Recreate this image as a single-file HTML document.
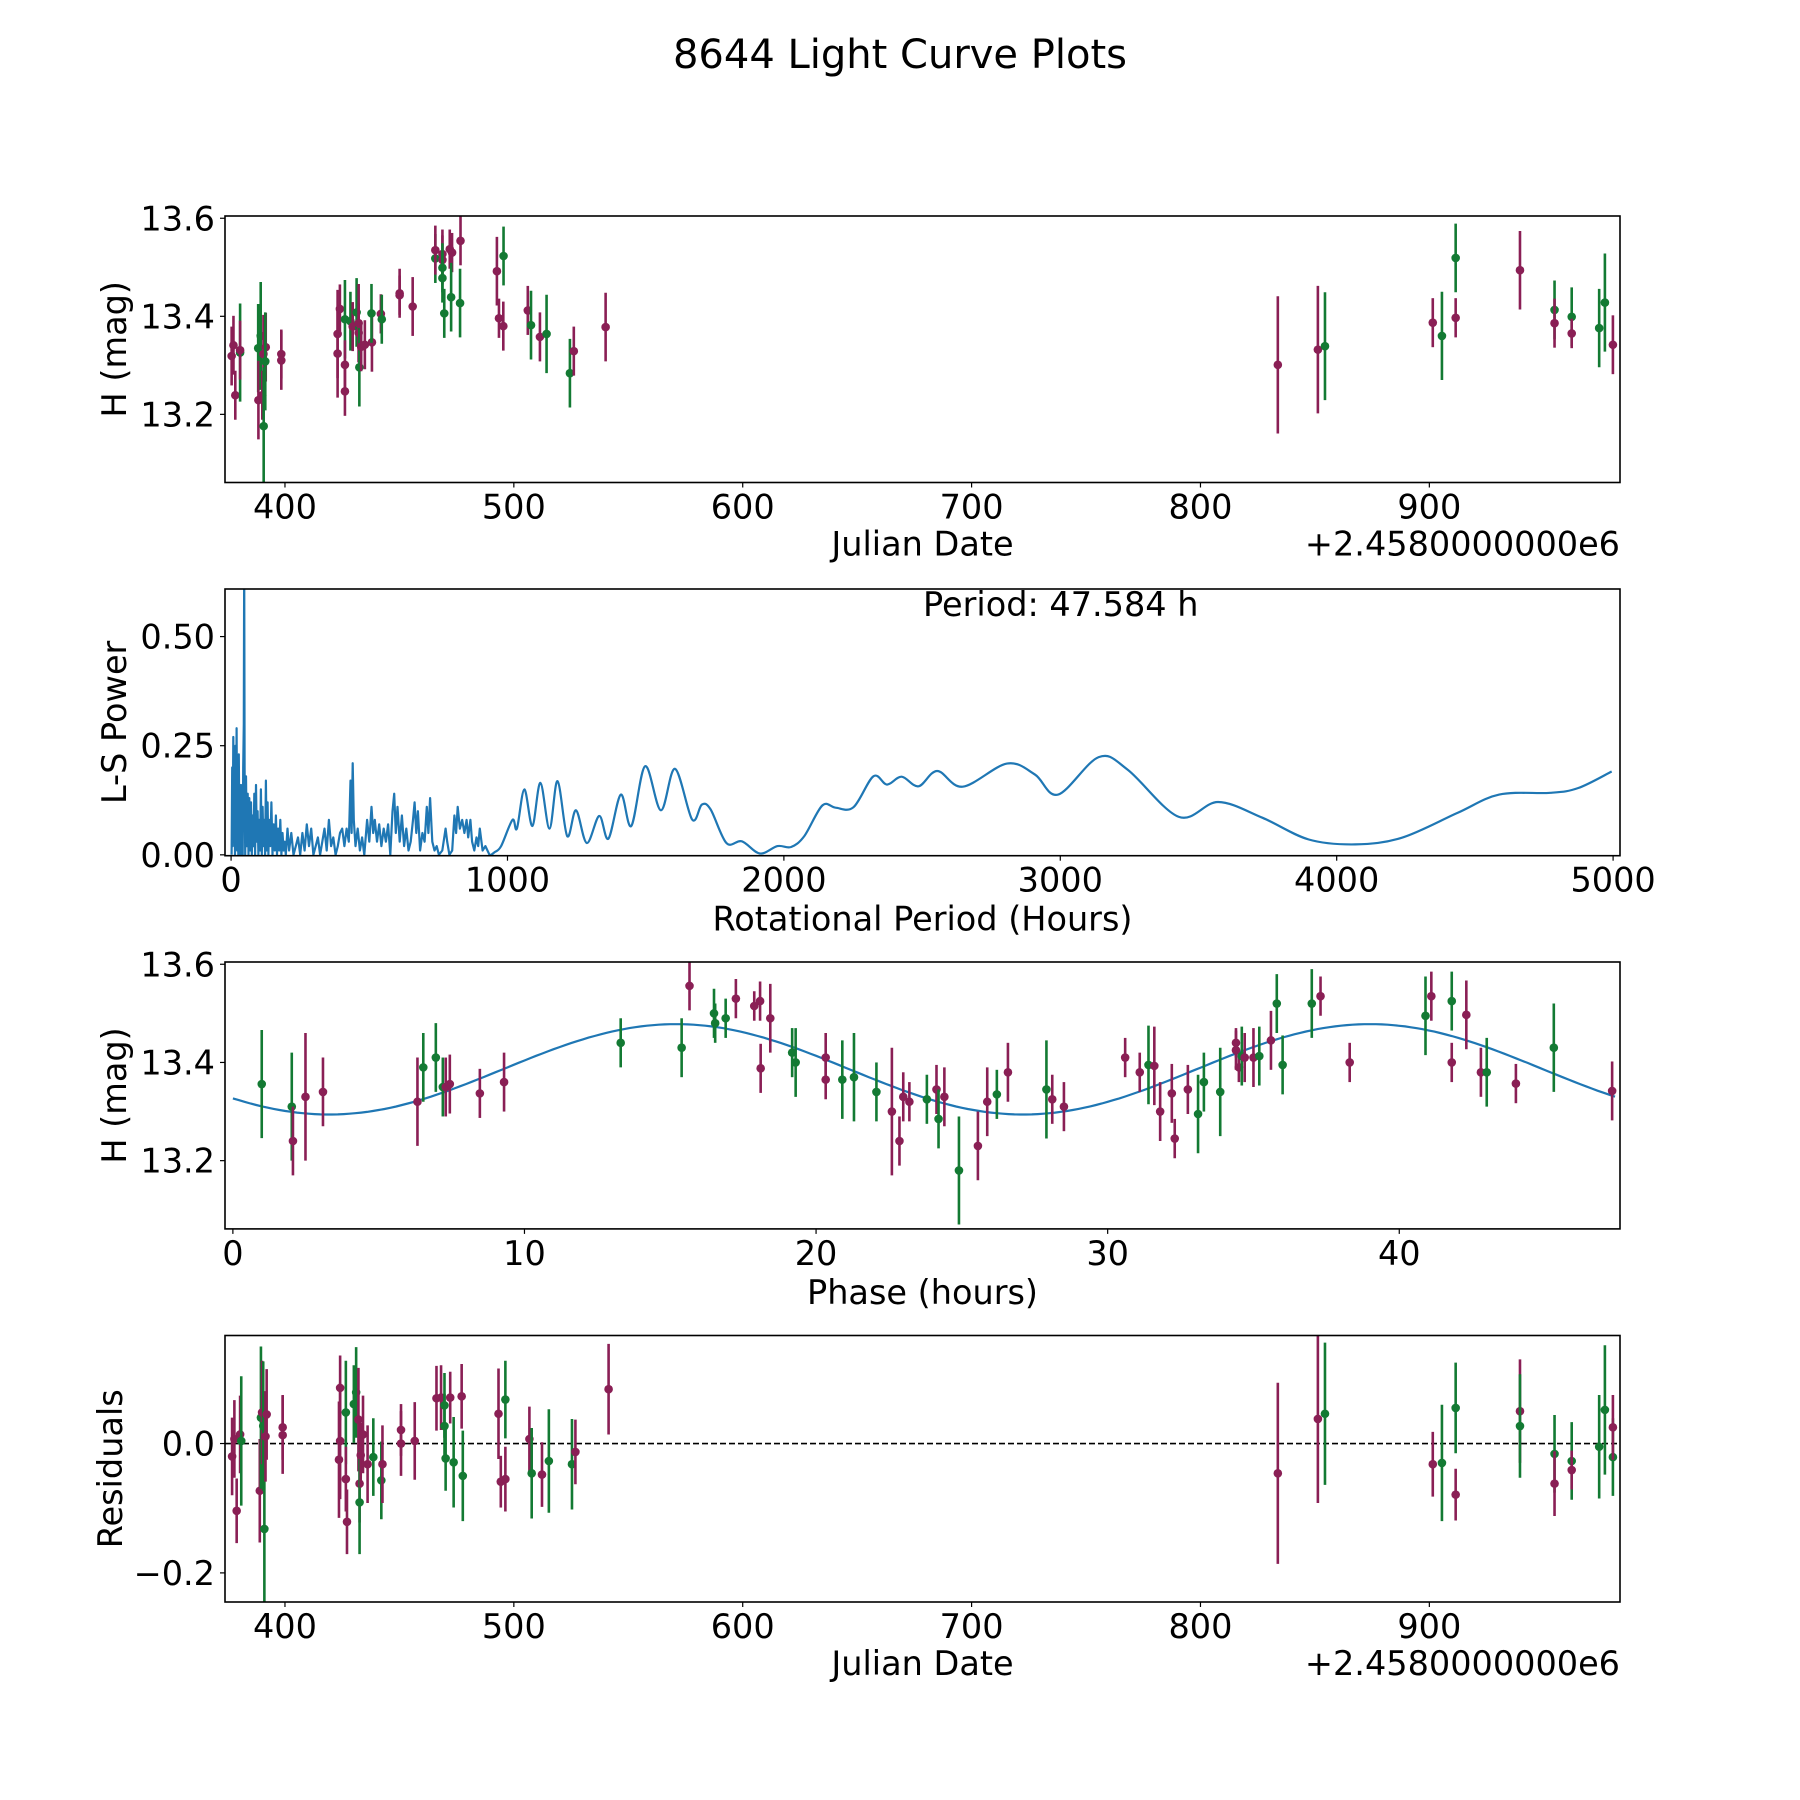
<!DOCTYPE html>
<html><head><meta charset="utf-8"><style>
html,body{margin:0;padding:0;background:#fff;}
svg{display:block;font-family:"DejaVu Sans","Liberation Sans",sans-serif;}
</style></head><body>
<svg id="fig" width="1800" height="1800" viewBox="0 0 1800 1800" xmlns="http://www.w3.org/2000/svg">
<rect width="1800" height="1800" fill="#fff"/>
<text x="900" y="68" font-size="40" text-anchor="middle">8644 Light Curve Plots</text>
</svg>
<script>
// ---- top light curve data ----
const lcDate=[376.7,377.5,378.3,380.4,380.4,388.3,388.4,389.4,390.1,390.6,390.7,391.6,391.4,398.4,398.4,423.0,423.0,424.0,426.2,426.2,426.2,428.6,429.6,431.3,432.2,432.2,432.5,433.3,434.9,438.0,437.8,441.9,442.3,450.1,450.1,455.8,465.7,465.7,468.8,468.8,468.8,468.8,469.6,472.0,473.0,472.6,476.7,476.5,492.6,493.5,495.4,495.5,506.1,507.5,511.4,514.3,524.5,526.2,540.1,833.8,851.3,854.4,901.5,905.5,911.5,911.5,939.6,954.7,954.7,962.2,962.2,974.2,976.7,980.2];
const lcMag=[13.319,13.341,13.239,13.326,13.331,13.335,13.229,13.360,13.239,13.323,13.176,13.337,13.308,13.323,13.310,13.364,13.324,13.415,13.394,13.301,13.247,13.390,13.379,13.408,13.386,13.366,13.296,13.338,13.342,13.347,13.406,13.405,13.394,13.447,13.443,13.420,13.518,13.535,13.527,13.515,13.499,13.478,13.406,13.537,13.530,13.439,13.554,13.427,13.492,13.396,13.380,13.523,13.412,13.382,13.358,13.364,13.284,13.329,13.378,13.301,13.332,13.339,13.387,13.360,13.519,13.397,13.494,13.413,13.386,13.399,13.365,13.376,13.428,13.342];
const lcErr=[.06,.06,.05,.1,.06,.09,.08,.11,.05,.08,.12,.07,.1,.05,.06,.09,.09,.05,.08,.05,.05,.06,.05,.07,.08,.06,.08,.05,.05,.06,.06,.04,.05,.05,.04,.06,.05,.05,.05,.05,.05,.05,.05,.04,.04,.07,.05,.07,.07,.04,.05,.06,.05,.07,.05,.08,.07,.05,.07,.14,.13,.11,.05,.09,.07,.04,.08,.06,.05,.06,.03,.08,.1,.06];
const lcBand=["P","P","P","G","P","G","P","G","P","P","G","P","G","P","P","P","P","P","G","P","P","G","P","G","P","P","G","P","P","P","G","P","G","P","P","P","G","P","P","P","G","G","G","P","P","G","P","G","P","P","P","G","P","G","P","G","G","P","P","P","P","G","P","G","G","P","P","G","P","G","P","G","G","P"];
// ---- periodogram ----
const lsPeriod=[2,4,6,8,10,12,14,16,18,20,22,24,26,28,30,32,34,36,38,40,42,44,46,47.6,49,51,54,57,60,63,66,69,72,75,78,81,84,87,90,93,96,99,102,105,108,111,114,117,120,123,126,129,132,135,138,142,146,150,154,158,162,166,170,174,178,182,186,190,194,198,204,210,218,226,234,242,250,258,266,274,282,290,298,306,314,322,330,338,346,354,362,370,378,386,394,402,410,418,426,432,436,440,444,450,458,466,474,482,492,500,508,514,520,528,536,544,552,560,568,576,584,590,596,602,610,618,626,634,642,650,658,664,670,676,684,692,700,708,714,720,728,736,744,752,764,776,782,790,800,808,814,820,828,836,844,852,858,866,872,880,888,894,900,910,920,935,953,977,1018,1034,1061,1090,1119,1152,1181,1216,1248,1287,1332,1365,1410,1448,1498,1555,1606,1668,1703,1735,1792,1848,1913,1977,2026,2074,2139,2187,2252,2324,2373,2426,2487,2555,2647,2807,2908,2992,3139,3244,3429,3571,3731,3899,4067,4235,4437,4588,4773,4874,4995];
const lsPower=[0,.2,.02,.27,.03,.22,0,.25,.05,.29,.01,.18,0,.23,.04,.15,0,.16,.02,.12,0,.2,.3,.68,.2,0,.18,.02,.14,0,.13,.01,.12,0,.09,.02,.14,0,.16,.03,.1,0,.08,.01,.15,0,.11,.02,.08,0,.17,.01,.12,0,.08,.02,.12,0,.07,.01,.09,0,.06,.01,.08,0,.05,.01,.03,0,.06,.01,.05,0,.02,.04,0,.05,.01,.07,.02,.06,0,.02,.04,0,.03,.06,.01,.08,.02,.04,0,.02,.05,.06,.02,.06,.03,.17,.05,.21,.08,.02,.06,.01,.04,0,.08,.03,.11,.05,.08,.03,.07,.02,.06,.03,.07,0,.1,.14,.05,.11,.03,.09,.02,.06,.01,.03,.08,.12,.05,.1,.01,.05,.03,.11,.05,.13,.03,.01,.02,0,.01,.06,.03,0,.01,.09,.05,.11,.06,.08,.05,.08,.04,.08,.03,.01,.04,.02,.06,.01,.02,0,.006,.02,.08,.06,.15,.066,.165,.06,.169,.043,.102,.027,.089,.037,.138,.066,.203,.102,.197,.081,.115,.104,.027,.031,.003,.02,.018,.043,.113,.108,.109,.18,.161,.179,.157,.192,.156,.209,.184,.138,.224,.195,.087,.121,.085,.035,.024,.039,.096,.138,.142,.153,.191];
// ---- phase-folded data ----
const phHour=[0.99,2.02,2.06,2.49,3.09,6.33,6.53,6.96,7.2,7.3,7.44,8.47,9.3,13.3,15.39,15.66,16.5,16.54,16.9,17.25,17.88,18.08,18.43,18.1,19.18,19.3,20.33,20.33,20.9,21.3,22.07,22.6,22.86,22.99,23.2,23.8,24.13,24.2,24.4,24.9,25.55,25.87,26.2,26.58,27.9,28.1,28.5,30.6,31.1,31.4,31.6,31.8,32.2,32.3,32.75,33.1,33.3,33.86,34.4,34.4,34.5,34.6,34.7,35.0,35.2,35.6,35.8,36.0,37.0,37.3,38.3,40.9,41.1,41.8,41.8,42.3,42.8,43.0,44.0,45.3,47.3];
const phMag=[13.356,13.31,13.24,13.33,13.34,13.32,13.39,13.41,13.35,13.35,13.356,13.337,13.36,13.44,13.43,13.556,13.5,13.48,13.49,13.53,13.515,13.525,13.49,13.388,13.42,13.40,13.41,13.365,13.365,13.37,13.34,13.30,13.24,13.33,13.32,13.325,13.345,13.285,13.33,13.18,13.23,13.32,13.335,13.38,13.345,13.325,13.31,13.41,13.38,13.395,13.393,13.30,13.337,13.245,13.345,13.295,13.36,13.34,13.44,13.425,13.39,13.413,13.41,13.41,13.413,13.445,13.52,13.395,13.52,13.535,13.40,13.495,13.535,13.525,13.40,13.497,13.38,13.38,13.357,13.43,13.342];
const phErr=[.11,.11,.07,.13,.07,.09,.07,.07,.06,.06,.06,.05,.06,.05,.06,.05,.05,.04,.04,.04,.03,.04,.07,.05,.05,.07,.05,.04,.08,.09,.06,.13,.05,.05,.04,.05,.05,.06,.06,.11,.07,.07,.05,.06,.1,.05,.05,.04,.04,.08,.08,.06,.06,.04,.05,.08,.06,.09,.03,.04,.03,.06,.05,.06,.06,.06,.06,.06,.07,.04,.04,.08,.05,.06,.04,.07,.05,.07,.04,.09,.06];
const phBand=["G","G","P","P","P","P","G","G","G","P","P","P","P","G","G","P","G","G","G","P","P","P","P","P","G","G","P","P","G","G","G","P","P","P","P","G","P","G","P","G","P","P","G","P","G","P","P","P","P","G","P","P","P","P","P","G","G","G","P","P","P","G","P","P","G","P","G","G","G","P","P","G","P","G","P","P","P","G","P","G","P"];
const fitMean=13.386, fitAmp=0.092, fitPeak=15.2, fitHalfPeriod=23.79;
// ---- residuals ----
const resDate=[376.9,377.9,378.9,380.4,380.9,389.0,389.5,390.0,390.5,391.0,391.5,392.0,399.0,399.0,423.6,424.1,424.1,426.6,426.6,427.1,430.1,431.1,432.1,432.6,432.6,433.1,434.1,436.1,438.6,442.1,442.6,450.7,450.7,456.7,466.2,468.2,469.7,469.7,470.2,472.2,473.7,477.2,477.7,493.3,494.3,496.3,496.3,506.8,507.8,512.3,515.3,525.4,526.9,541.4,833.8,851.3,854.4,901.5,905.5,911.5,911.5,939.6,939.6,954.7,954.7,962.2,962.2,974.2,976.7,980.2,980.2];
const resVal=[-0.02,0.007,-0.104,0.014,0.004,-0.073,0.04,0.048,0.027,-0.132,0.011,0.045,0.025,0.013,-0.025,0.004,0.086,0.048,-0.055,-0.121,0.061,0.079,0.037,-0.062,-0.091,-0.018,0.014,-0.032,-0.021,-0.057,-0.032,0.021,0.0,0.004,0.07,0.071,0.059,0.027,-0.023,0.071,-0.029,0.073,-0.05,0.046,-0.059,-0.055,0.068,0.007,-0.046,-0.048,-0.027,-0.032,-0.013,0.084,-0.046,0.038,0.046,-0.032,-0.03,0.055,-0.079,0.05,0.027,-0.016,-0.062,-0.027,-0.041,-0.005,0.052,-0.021,0.025];
const resErr=[.06,.06,.05,.06,.1,.08,.11,.08,.1,.12,.07,.07,.05,.06,.09,.09,.05,.08,.05,.05,.06,.07,.08,.06,.08,.05,.06,.06,.06,.06,.06,.04,.05,.06,.05,.05,.05,.05,.05,.04,.07,.05,.07,.07,.04,.05,.06,.05,.07,.05,.08,.07,.05,.07,.14,.13,.11,.05,.09,.07,.04,.08,.08,.06,.05,.06,.03,.08,.1,.06,.05];
const resBand=["P","P","P","P","G","P","G","P","G","G","P","P","P","P","P","P","P","G","P","P","G","G","P","P","G","P","P","P","G","G","P","P","P","P","P","P","G","G","G","P","G","P","G","P","P","P","G","P","G","P","G","G","P","P","P","P","G","P","G","G","P","P","G","G","P","G","P","G","G","G","P"];
// ---- tick labels ----
const dateTicks=[400,500,600,700,800,900];
const magTicks=[13.2,13.4,13.6];
const lsXTicks=[0,1000,2000,3000,4000,5000];
const lsYTicks=[0,0.25,0.5];
const phXTicks=[0,10,20,30,40];
const resTicks=[-0.2,0.0];

const NS="http://www.w3.org/2000/svg";
const fig=document.getElementById('fig');
const COL={P:"#8a1f55",G:"#137a33"};
const L=225,R=1620,FS=33.5;
function mk(tag,attrs,parent){const e=document.createElementNS(NS,tag);for(const k in attrs)e.setAttribute(k,attrs[k]);(parent||fig).appendChild(e);return e;}
function axes(top,bot,x0,x1,y0,y1,name){
  const g=mk('g',{});
  
  
  const sx=v=>L+(v-x0)/(x1-x0)*(R-L);
  const sy=v=>bot-(v-y0)/(y1-y0)*(bot-top);
  const cid='clip-'+name;
  const cp=mk('clipPath',{id:cid},g);mk('rect',{x:L,y:top,width:R-L,height:bot-top},cp);
  const plot=mk('g',{'clip-path':'url(#'+cid+')'},g);
  return {g,plot,sx,sy,top,bot};
}
function frame(a){const r=mk('rect',{x:L,y:a.top,width:R-L,height:a.bot-a.top,fill:'none',stroke:'#000','stroke-width':1.6},a.g);
  
  }
function xticks(a,ticks,fmt){ticks.forEach(t=>{const x=a.sx(t);
  mk('line',{x1:x,x2:x,y1:a.bot,y2:a.bot+5,stroke:'#000','stroke-width':1.2},a.g);
  const tx=mk('text',{x:x,y:a.bot+36,'font-size':FS,'text-anchor':'middle'},a.g);tx.textContent=fmt(t);
  
  });}
function yticks(a,ticks,fmt){ticks.forEach(t=>{const y=a.sy(t);
  mk('line',{x1:L-5,x2:L,y1:y,y2:y,stroke:'#000','stroke-width':1.2},a.g);
  const tx=mk('text',{x:L-10,y:y+12,'font-size':FS,'text-anchor':'end'},a.g);tx.textContent=fmt(t);
  
  });}
function xlabel(a,txt,dy){const t=mk('text',{x:922.5,y:a.bot+dy,'font-size':FS,'text-anchor':'middle'},a.g);t.textContent=txt;
  
  }
function ylabel(a,txt,x){const cy=(a.top+a.bot)/2;const t=mk('text',{x:x,y:cy,'font-size':FS,'text-anchor':'middle',transform:'rotate(-90 '+x+' '+cy+')'},a.g);t.textContent=txt;
  
  }
function offset(a){const t=mk('text',{x:R,y:a.bot+73,'font-size':FS,'text-anchor':'end'},a.g);t.textContent='+2.4580000000e6';
  
  }
function errpts(a,xs,ys,es,bs,nm){for(let i=0;i<xs.length;i++){const x=a.sx(xs[i]),c=COL[bs[i]];
  const ln=mk('line',{x1:x,x2:x,y1:a.sy(ys[i]-es[i]),y2:a.sy(ys[i]+es[i]),stroke:c,'stroke-width':2.6},a.plot);
  
  
  const p=mk('circle',{cx:x,cy:a.sy(ys[i]),r:4.3,fill:c},a.plot);
  
  }}
const f2=v=>v.toFixed(2), f1=v=>v.toFixed(1), f0=v=>String(v);
const minus=s=>s.replace('-','\u2212');

// Panel 1
const a1=axes(216,482.5,373.8,983.3,13.061,13.6046,'light-curve-panel');
errpts(a1,lcDate,lcMag,lcErr,lcBand,'magnitude');
frame(a1);xticks(a1,dateTicks,f0);yticks(a1,magTicks,f1);xlabel(a1,'Julian Date',73);offset(a1);ylabel(a1,'H (mag)',126);

// Panel 2
const a2=axes(589,855.7,-22,5025,-0.002,0.609,'periodogram-panel');
const px=lsPeriod.map(a2.sx), py=lsPower.map(a2.sy);
let d='M'+px[0].toFixed(1)+' '+py[0].toFixed(1);
for(let i=0;i<px.length-1;i++){
  if(lsPeriod[i]<930){d+='L'+px[i+1].toFixed(1)+' '+py[i+1].toFixed(1);continue;}
  const i0=Math.max(i-1,0),i3=Math.min(i+2,px.length-1);
  const c1x=px[i]+(px[i+1]-px[i0])/6,c1y=py[i]+(py[i+1]-py[i0])/6;
  const c2x=px[i+1]-(px[i3]-px[i])/6,c2y=py[i+1]-(py[i3]-py[i])/6;
  d+='C'+c1x.toFixed(1)+' '+c1y.toFixed(1)+' '+c2x.toFixed(1)+' '+c2y.toFixed(1)+' '+px[i+1].toFixed(1)+' '+py[i+1].toFixed(1);
}
const pl=mk('path',{d:d,fill:'none',stroke:'#1f77b4','stroke-width':2.2,'stroke-linejoin':'round'},a2.plot);


frame(a2);xticks(a2,lsXTicks,f0);yticks(a2,lsYTicks,f2);xlabel(a2,'Rotational Period (Hours)',75);ylabel(a2,'L-S Power',126);
const pt=mk('text',{x:923,y:616,'font-size':FS},a2.g);pt.textContent='Period: 47.584 h';



// Panel 3
const a3=axes(962,1228.9,-0.27,47.57,13.061,13.6046,'phase-panel');
let fd='';for(let h=0;h<=47.6;h+=0.2){const m=fitMean+fitAmp*Math.cos(2*Math.PI*(h-fitPeak)/fitHalfPeriod);fd+=(h?'L':'M')+a3.sx(h).toFixed(1)+' '+a3.sy(m).toFixed(1);}
const fl=mk('path',{d:fd,fill:'none',stroke:'#1f77b4','stroke-width':2.2},a3.plot);


errpts(a3,phHour,phMag,phErr,phBand,'phase');
frame(a3);xticks(a3,phXTicks,f0);yticks(a3,magTicks,f1);xlabel(a3,'Phase (hours)',75);ylabel(a3,'H (mag)',126);

// Panel 4
const a4=axes(1335.5,1602,373.8,983.3,-0.245,0.167,'residuals-panel');
const zl=mk('line',{x1:L,x2:R,y1:a4.sy(0),y2:a4.sy(0),stroke:'#000','stroke-width':1.6,'stroke-dasharray':'6,3'},a4.plot);


errpts(a4,resDate,resVal,resErr,resBand,'residual');
frame(a4);xticks(a4,dateTicks,f0);yticks(a4,resTicks,v=>minus(f1(v)));xlabel(a4,'Julian Date',73);offset(a4);ylabel(a4,'Residuals',122);
</script>
</body></html>
